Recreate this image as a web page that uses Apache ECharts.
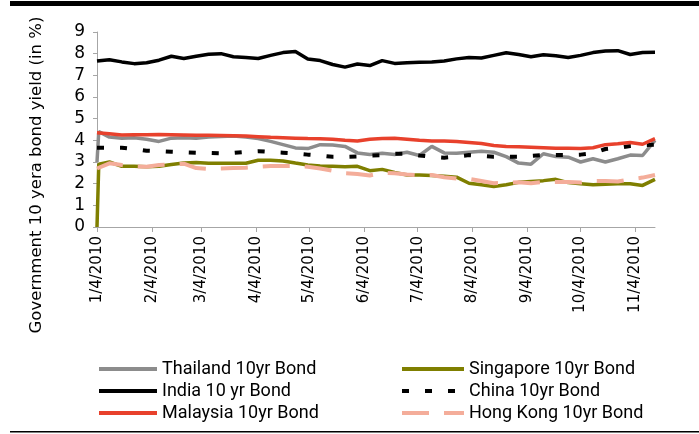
<!DOCTYPE html>
<html>
<head>
<meta charset="utf-8">
<script src="https://cdn.jsdelivr.net/npm/echarts@6/dist/echarts.min.js"></script>
<style>
  html, body { margin: 0; padding: 0; background: #fff; }
  #bond-chart { width: 699px; height: 434px; }
</style>
</head>
<body>
<div id="bond-chart"></div>
<script>
// sample dates (first trading day, then weekly mondays)
var sampleDates = ['1/4/2010', '1/5/2010', '1/11/2010', '1/18/2010', '1/25/2010', '2/1/2010', '2/8/2010', '2/15/2010', '2/22/2010',
    '3/1/2010', '3/8/2010', '3/15/2010', '3/22/2010', '3/29/2010', '4/5/2010', '4/12/2010', '4/19/2010', '4/26/2010',
    '5/3/2010', '5/10/2010', '5/17/2010', '5/24/2010', '5/31/2010', '6/7/2010', '6/14/2010', '6/21/2010', '6/28/2010',
    '7/5/2010', '7/12/2010', '7/19/2010', '7/26/2010', '8/2/2010', '8/9/2010', '8/16/2010', '8/23/2010', '8/30/2010',
    '9/6/2010', '9/13/2010', '9/20/2010', '9/27/2010', '10/4/2010', '10/11/2010', '10/18/2010', '10/25/2010',
    '11/1/2010', '11/8/2010', '11/15/2010'];

var thailand = [3.0, 4.4, 4.15, 4.1, 4.12, 4.05, 3.95, 4.1, 4.12, 4.1, 4.15, 4.18, 4.2, 4.15, 4.08, 3.95, 3.8, 3.65,
    3.62, 3.8, 3.78, 3.72, 3.42, 3.35, 3.4, 3.35, 3.45, 3.3, 3.72, 3.42, 3.4, 3.45, 3.5, 3.45, 3.25, 2.95, 2.9,
    3.38, 3.25, 3.22, 3.0, 3.15, 3.0, 3.15, 3.32, 3.3, 4.0];
var singapore = [0, 2.9, 3.0, 2.8, 2.8, 2.78, 2.8, 2.88, 2.95, 2.98, 2.94, 2.94, 2.94, 2.94, 3.08, 3.08, 3.05, 2.95,
    2.86, 2.82, 2.8, 2.78, 2.8, 2.6, 2.66, 2.52, 2.4, 2.4, 2.38, 2.34, 2.3, 2.02, 1.95, 1.87, 1.95, 2.06, 2.1,
    2.14, 2.2, 2.05, 2.0, 1.95, 1.97, 2.0, 2.0, 1.92, 2.2];
var india = [7.66, 7.66, 7.72, 7.62, 7.54, 7.58, 7.7, 7.88, 7.78, 7.88, 7.97, 8.0, 7.86, 7.82, 7.78, 7.92, 8.05, 8.1,
    7.75, 7.68, 7.5, 7.38, 7.52, 7.45, 7.68, 7.55, 7.58, 7.6, 7.62, 7.66, 7.76, 7.82, 7.8, 7.92, 8.04, 7.96, 7.86,
    7.95, 7.9, 7.82, 7.92, 8.05, 8.12, 8.14, 7.96, 8.05, 8.06];
var china = [3.66, 3.66, 3.66, 3.66, 3.6, 3.52, 3.5, 3.47, 3.45, 3.43, 3.42, 3.4, 3.42, 3.47, 3.5, 3.46, 3.43, 3.4,
    3.34, 3.3, 3.24, 3.24, 3.26, 3.3, 3.32, 3.38, 3.38, 3.3, 3.24, 3.2, 3.25, 3.32, 3.28, 3.24, 3.24, 3.24, 3.28,
    3.32, 3.32, 3.32, 3.34, 3.4, 3.6, 3.65, 3.74, 3.78, 3.8];
var malaysia = [4.35, 4.35, 4.3, 4.25, 4.26, 4.26, 4.27, 4.26, 4.25, 4.24, 4.23, 4.22, 4.21, 4.2, 4.17, 4.14, 4.12, 4.1,
    4.08, 4.07, 4.05, 4.0, 3.97, 4.05, 4.08, 4.1, 4.05, 4.0, 3.97, 3.97, 3.95, 3.9, 3.85, 3.76, 3.72, 3.7, 3.68,
    3.66, 3.64, 3.63, 3.62, 3.66, 3.8, 3.84, 3.9, 3.82, 4.08];
var hongKong = [2.7, 2.75, 2.94, 2.86, 2.8, 2.78, 2.86, 2.88, 2.92, 2.72, 2.68, 2.7, 2.72, 2.74, 2.78, 2.82, 2.82, 2.82,
    2.78, 2.7, 2.6, 2.48, 2.45, 2.38, 2.5, 2.48, 2.42, 2.38, 2.4, 2.3, 2.24, 2.22, 2.12, 2.02, 2.05, 2.06, 2.02,
    2.08, 2.08, 2.08, 2.05, 2.12, 2.12, 2.1, 2.2, 2.28, 2.4];

var yTicks = [0, 1, 2, 3, 4, 5, 6, 7, 8, 9];
var yTitle = 'Government 10 yera bond yield (in %)';

// daily category axis, so the month ticks land on the 4th
var days = [];
var t = Date.UTC(2010, 0, 4);
var end = Date.UTC(2010, 10, 15);
while (t <= end) {
    var dt = new Date(t);
    days.push((dt.getUTCMonth() + 1) + '/' + dt.getUTCDate() + '/' + dt.getUTCFullYear());
    t += 86400000;
}

function pairs(values) {
    return values.map(function (v, i) {
        return [days.indexOf(sampleDates[i]), v];
    });
}

function isMonthTick(index, value) {
    return value.split('/')[1] === '4';
}

var chart = echarts.init(document.getElementById('bond-chart'));

var legendText = { fontFamily: 'Roboto', fontSize: 18, color: '#000' };

var option = {
    animation: false,
    backgroundColor: '#fff',
    grid: { left: 97, right: 44, top: 32, bottom: 207 },
    legend: [
        {
            orient: 'vertical', left: 97, top: 360, itemGap: 4, padding: 0,
            itemWidth: 58, itemHeight: 18,
            textStyle: legendText,
            itemStyle: { opacity: 0 },
            lineStyle: { width: 4 },
            data: ['Thailand 10yr Bond', 'India 10 yr Bond', 'Malaysia 10yr Bond']
        },
        {
            orient: 'vertical', left: 400, top: 360, itemGap: 4, padding: 0,
            itemWidth: 62, itemHeight: 18,
            textStyle: legendText,
            itemStyle: { opacity: 0 },
            lineStyle: { width: 4 },
            data: ['Singapore 10yr Bond', 'China 10yr Bond', 'Hong Kong 10yr Bond']
        }
    ],
    xAxis: {
        type: 'category',
        data: days,
        boundaryGap: false,
        axisLine: { lineStyle: { color: '#a6a6a6', width: 1 } },
        axisTick: { interval: isMonthTick, length: 5, lineStyle: { color: '#a6a6a6' } },
        axisLabel: {
            interval: isMonthTick,
            rotate: 90,
            margin: 9,
            fontFamily: 'DejaVu Sans',
            fontSize: 15,
            color: '#000'
        },
        splitLine: { show: false }
    },
    yAxis: {
        type: 'value',
        min: yTicks[0],
        max: yTicks[yTicks.length - 1],
        interval: 1,
        axisLine: { show: true, lineStyle: { color: '#a6a6a6', width: 1 } },
        axisTick: { show: true, length: 4, lineStyle: { color: '#a6a6a6' } },
        axisLabel: { fontFamily: 'DejaVu Sans', fontSize: 17, color: '#000', margin: 12 },
        splitLine: { show: false }
    },
    series: [
        {
            name: 'Thailand 10yr Bond', type: 'line', showSymbol: false, symbol: 'none',
            color: '#8c8c8c', lineStyle: { width: 3.5, color: '#8c8c8c' },
            data: pairs(thailand)
        },
        {
            name: 'Singapore 10yr Bond', type: 'line', showSymbol: false, symbol: 'none',
            color: '#7f7f00', lineStyle: { width: 3.5, color: '#7f7f00' },
            data: pairs(singapore)
        },
        {
            name: 'India 10 yr Bond', type: 'line', showSymbol: false, symbol: 'none',
            color: '#000', lineStyle: { width: 3.5, color: '#000' },
            data: pairs(india)
        },
        {
            name: 'China 10yr Bond', type: 'line', showSymbol: false, symbol: 'none',
            color: '#000', lineStyle: { width: 4, color: '#000', type: [7, 16] },
            data: pairs(china)
        },
        {
            name: 'Malaysia 10yr Bond', type: 'line', showSymbol: false, symbol: 'none',
            color: '#e8412c', lineStyle: { width: 3.5, color: '#e8412c' },
            data: pairs(malaysia)
        },
        {
            name: 'Hong Kong 10yr Bond', type: 'line', showSymbol: false, symbol: 'none',
            color: '#f4ad9a', lineStyle: { width: 4, color: '#f4ad9a', type: [27, 15] },
            data: pairs(hongKong)
        }
    ],
    graphic: [
        { type: 'rect', left: 10, top: 1, shape: { width: 689, height: 5 }, style: { fill: '#000' } },
        { type: 'rect', left: 10, top: 431, shape: { width: 689, height: 1.5 }, style: { fill: '#000' } },
        {
            type: 'text', x: 37, y: 175, rotation: Math.PI / 2,
            style: {
                text: yTitle, fill: '#000', font: '16.5px "DejaVu Sans"',
                textAlign: 'center', textVerticalAlign: 'middle'
            }
        }
    ]
};

chart.setOption(option);
window.addEventListener('resize', function () {
    chart.resize();
});
</script>
</body>
</html>
